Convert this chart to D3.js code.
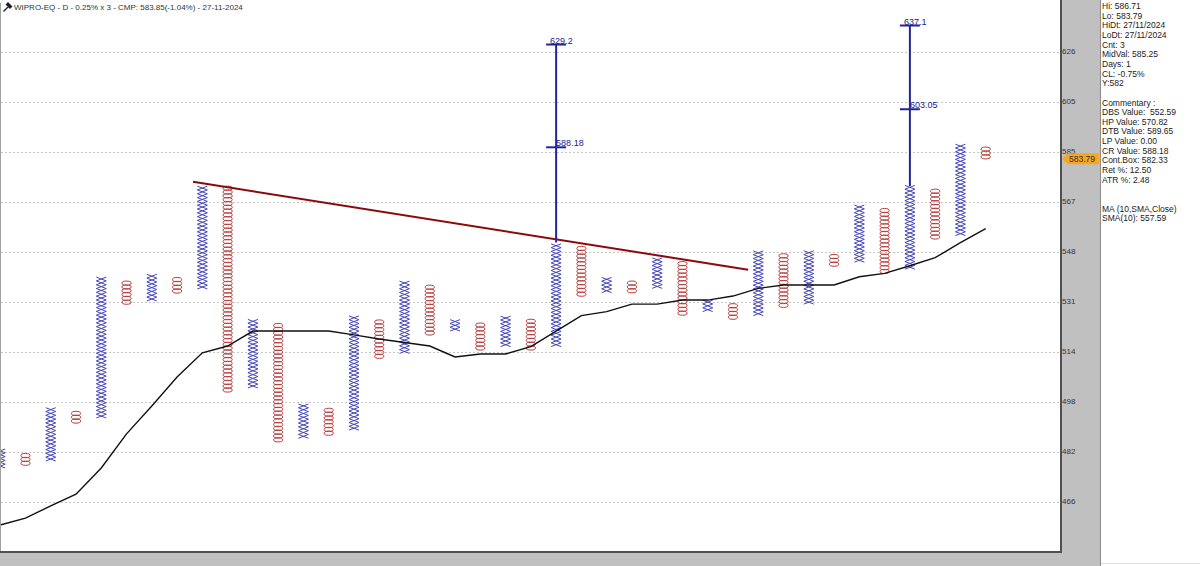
<!DOCTYPE html>
<html>
<head>
<meta charset="utf-8">
<script src="https://cdnjs.cloudflare.com/ajax/libs/d3/7.8.5/d3.min.js"></script>
<style>
  body { margin: 0; background: #fff; }
  svg { display: block; font-family: "Liberation Sans", Arial, sans-serif; }
  text { white-space: pre; }
</style>
</head>
<body>
<svg width="1200" height="566"></svg>
<script>
// column types, top box and bottom box prices (0.25% box, 3 box reversal)
var colType = ["X","O","X","O","X","O","X","O","X","O","X","O","X","O","X","O","X","O","X","O",
               "X","O","X","O","X","O","X","O","X","O","X","O","X","O","X","O","X","O","X","O"];
var colHigh = [481.1, 480.1, 494.8, 493.5, 538.9, 537.5, 540.3, 538.9, 572.4, 571.3,
               524.2, 523.0, 496.0, 494.6, 525.6, 523.9, 537.2, 536.1, 524.2, 522.8,
               525.4, 524.1, 551.2, 550.0, 538.8, 537.2, 545.5, 544.0, 530.8, 529.3,
               548.3, 546.7, 548.3, 547.0, 564.9, 563.5, 572.0, 570.5, 588.0, 586.7];
var colLow  = [476.6, 477.5, 478.8, 490.9, 492.5, 530.7, 531.8, 534.6, 536.0, 501.0,
               502.3, 484.9, 486.0, 487.0, 488.6, 512.2, 513.8, 520.1, 521.4, 515.0,
               516.1, 515.0, 516.1, 533.5, 534.7, 534.7, 536.2, 526.9, 528.1, 525.5,
               526.7, 529.6, 530.7, 544.1, 545.5, 541.5, 543.0, 553.9, 555.1, 583.8];
var sma10   = [459.1, 461.2, 464.9, 468.5, 476.6, 487.4, 496.4, 505.9, 514.0, 516.3,
               521.4, 521.4, 521.4, 521.4, 520.1, 518.7, 517.5, 516.3, 512.6, 513.6,
               513.6, 516.1, 521.4, 526.7, 528.1, 530.7, 530.7, 532.1, 532.1, 533.5,
               536.2, 537.4, 537.4, 537.4, 540.3, 541.5, 544.2, 547.1, 552.5, 557.6];
var tickLabels = [466, 482, 498, 514, 531, 548, 567, 585, 605, 626];
var trendLine = [{col: 8.63, price: 575.0}, {col: 30.6, price: 542.8}];
var targets = [{col: 23, mid: 588.18, top: 629.2, midText: "588.18", topText: "629.2"},
               {col: 37, mid: 603.05, top: 637.1, midText: "603.05", topText: "637.1"}];
var title = "WIPRO-EQ - D - 0.25% x 3 - CMP: 583.85(-1.04%) - 27-11-2024";
var lastPrice = 583.79;
var infoLines = ["Hi: 586.71", "Lo: 583.79", "HiDt: 27/11/2024", "LoDt: 27/11/2024", "Cnt: 3",
                 "MidVal: 585.25", "Days: 1", "CL: -0.75%", "Y:582", "",
                 "Commentary :", "DBS Value:  552.59", "HP Value: 570.82", "DTB Value: 589.65",
                 "LP Value: 0.00", "CR Value: 588.18", "Cont.Box: 582.33", "Ret %: 12.50",
                 "ATR %: 2.48", "", "", "MA (10,SMA,Close)", "SMA(10): 557.59"];
var boxPct = 1.0025;

var svg = d3.select("svg"),
    plotW = 1061, plotH = 552;

var x = d3.scaleLinear().domain([1, 40]).range([0.2, 985.7]);
var y = d3.scaleLog().domain([466, 626]).range([502.3, 52.3]);

// background panels
svg.append("rect").attr("x", 0).attr("y", 0).attr("width", 1100).attr("height", 566).attr("fill", "#c0c0c0");
svg.append("rect").attr("x", 0).attr("y", 0).attr("width", plotW).attr("height", plotH).attr("fill", "#fff");
svg.append("rect").attr("x", 1101).attr("y", 0).attr("width", 99).attr("height", 563).attr("fill", "#fff");
svg.append("line").attr("x1", 1100.5).attr("x2", 1100.5).attr("y1", 0).attr("y2", 566).attr("stroke", "#8a8a8a");
svg.append("line").attr("x1", 1101).attr("x2", 1200).attr("y1", 563.5).attr("y2", 563.5).attr("stroke", "#e0e0e0");

var plot = svg.append("g");
plot.append("clipPath").attr("id", "clip")
  .append("rect").attr("x", 0).attr("y", 0).attr("width", plotW).attr("height", plotH);

// gridlines, equally spaced between first and last label
var gridVals = tickLabels.map(function(d, i) {
  return tickLabels[0] * Math.pow(tickLabels[tickLabels.length - 1] / tickLabels[0], i / (tickLabels.length - 1));
});

var yAxis = d3.axisRight(y)
    .tickValues(gridVals)
    .tickSize(0)
    .tickFormat(function(d, i) { return tickLabels[i]; });

svg.append("g")
    .attr("transform", "translate(" + (plotW + 1) + ",0)")
    .call(yAxis)
    .call(function(g) {
      g.select(".domain").remove();
      g.selectAll("text").attr("x", 0).attr("dy", "0.2em").attr("fill", "#333").style("font-size", "8px")
        .style("font-family", "'Liberation Sans', Arial, sans-serif");
    });

plot.selectAll(".grid")
  .data(gridVals)
  .enter().append("line")
    .attr("class", "grid")
    .attr("x1", 1).attr("x2", plotW)
    .attr("y1", function(d) { return Math.round(y(d)) + 0.5; })
    .attr("y2", function(d) { return Math.round(y(d)) + 0.5; })
    .attr("stroke", "#c8c8c8")
    .attr("stroke-dasharray", "2,2");

// boxes
var boxes = [];
colType.forEach(function(t, i) {
  var n = Math.round(Math.log(colHigh[i] / colLow[i]) / Math.log(boxPct)) + 1;
  for (var k = 0; k < n; k++) {
    var p = colLow[i] * Math.pow(boxPct, k);
    boxes.push({type: t, col: i + 1, y0: y(p * boxPct), y1: y(p)});
  }
});

var glyphs = plot.append("g").attr("clip-path", "url(#clip)");

glyphs.selectAll(".xbox")
  .data(boxes.filter(function(d) { return d.type == "X"; }))
  .enter().append("path")
    .attr("class", "xbox")
    .attr("d", function(d) {
      var cx = x(d.col);
      return "M" + (cx - 5) + "," + d.y0 + "L" + (cx + 5) + "," + d.y1 +
             "M" + (cx - 5) + "," + d.y1 + "L" + (cx + 5) + "," + d.y0;
    })
    .attr("fill", "none")
    .attr("stroke", "#4646b8")
    .attr("stroke-width", 1);

glyphs.selectAll(".obox")
  .data(boxes.filter(function(d) { return d.type == "O"; }))
  .enter().append("ellipse")
    .attr("class", "obox")
    .attr("cx", function(d) { return x(d.col); })
    .attr("cy", function(d) { return (d.y0 + d.y1) / 2; })
    .attr("rx", 4.6)
    .attr("ry", function(d) { return (d.y1 - d.y0) / 2 + 0.2; })
    .attr("fill", "none")
    .attr("stroke", "#b83a3a")
    .attr("stroke-width", 1);

// moving average
var line = d3.line()
    .x(function(d, i) { return x(i + 1); })
    .y(function(d) { return y(d); });

glyphs.append("path")
    .datum(sma10)
    .attr("d", line)
    .attr("fill", "none")
    .attr("stroke", "#111")
    .attr("stroke-width", 1.4);

// trend line
glyphs.append("line")
    .attr("x1", x(trendLine[0].col)).attr("y1", y(trendLine[0].price))
    .attr("x2", x(trendLine[1].col)).attr("y2", y(trendLine[1].price))
    .attr("stroke", "#8b0a0a")
    .attr("stroke-width", 2);

// price targets
var tg = plot.selectAll(".target")
  .data(targets)
  .enter().append("g")
    .attr("class", "target");

tg.append("line")
    .attr("x1", function(d) { return x(d.col); })
    .attr("x2", function(d) { return x(d.col); })
    .attr("y1", function(d) { return y(colHigh[d.col - 1] * boxPct); })
    .attr("y2", function(d) { return y(d.top); })
    .attr("stroke", "#24249a")
    .attr("stroke-width", 2);

["top", "mid"].forEach(function(k) {
  tg.append("line")
      .attr("x1", function(d) { return x(d.col) - 10; })
      .attr("x2", function(d) { return x(d.col) + 10; })
      .attr("y1", function(d) { return y(d[k]); })
      .attr("y2", function(d) { return y(d[k]); })
      .attr("stroke", "#24249a")
      .attr("stroke-width", 2);
  tg.append("text")
      .attr("x", function(d) { return x(d.col) + (k == "top" ? -6 : 0); })
      .attr("y", function(d) { return y(d[k]) - 1; })
      .attr("fill", "#22228c")
      .style("font-size", "9px")
      .text(function(d) { return d[k + "Text"]; });
});

// frame
svg.append("line").attr("x1", 0.5).attr("x2", 0.5).attr("y1", 3).attr("y2", plotH).attr("stroke", "#a0a0a0");
svg.append("line").attr("x1", plotW).attr("x2", plotW).attr("y1", 0).attr("y2", plotH + 1).attr("stroke", "#505050").attr("stroke-width", 2);
svg.append("line").attr("x1", 0).attr("x2", plotW + 1).attr("y1", plotH).attr("y2", plotH).attr("stroke", "#505050").attr("stroke-width", 2);

// title with little hammer icon
svg.append("path")
    .attr("d", "M3.5,11.5L8.5,6.5M6.5,4.5L8,3L11.5,6.5L10,8Z")
    .attr("stroke", "#222").attr("stroke-width", 1.4).attr("fill", "#222");
svg.append("text")
    .attr("x", 14).attr("y", 9.5)
    .attr("fill", "#333")
    .style("font-size", "8px")
    .text(title);

// last price marker
var py = y(lastPrice);
svg.append("path")
    .attr("d", "M" + (plotW + 1) + "," + py + "L" + (plotW + 7) + "," + (py - 5.6) + "L1099," + (py - 5.6) +
               "L1099," + (py + 5.6) + "L" + (plotW + 7) + "," + (py + 5.6) + "Z")
    .attr("fill", "#f5a623");
svg.append("text")
    .attr("x", 1069).attr("y", py + 3)
    .attr("fill", "#333")
    .style("font-size", "8.5px")
    .text(lastPrice.toFixed(2));

// info panel
svg.append("g").selectAll("text")
  .data(infoLines)
  .enter().append("text")
    .attr("x", 1102)
    .attr("y", function(d, i) { return 9 + i * 9.65; })
    .attr("fill", "#222")
    .style("font-size", "8.5px")
    .text(function(d) { return d; });
</script>
</body>
</html>
